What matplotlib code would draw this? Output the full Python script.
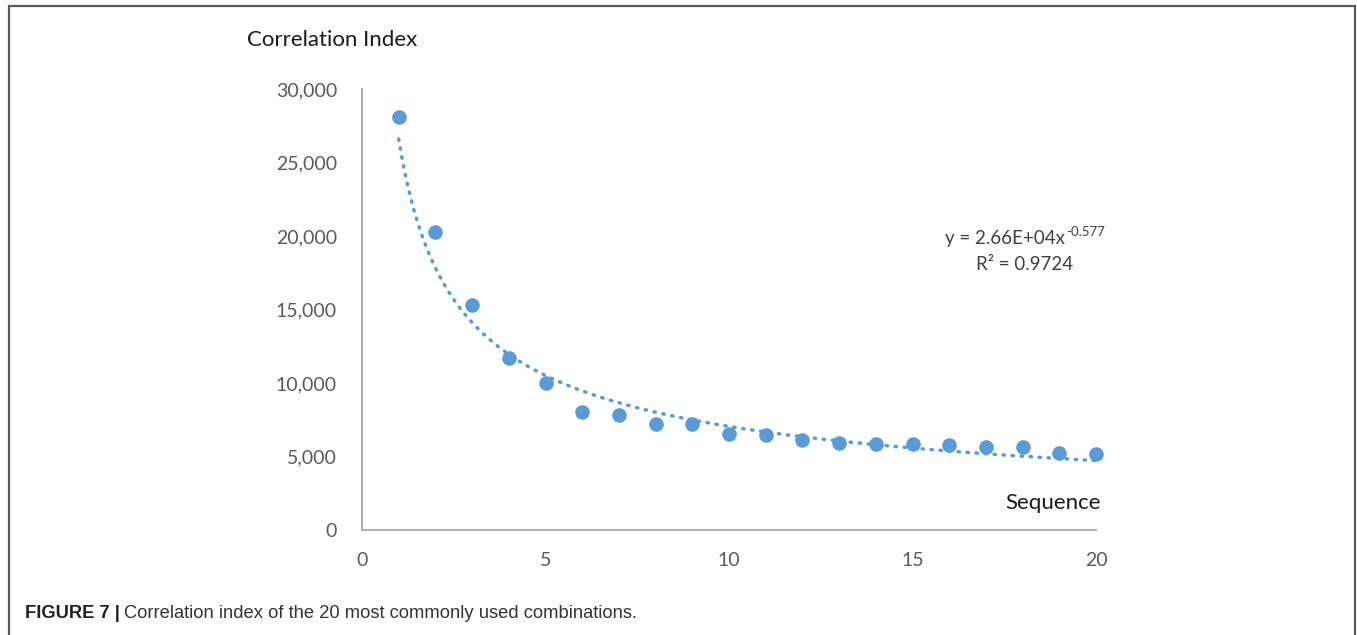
import matplotlib
matplotlib.use("Agg")
import matplotlib.pyplot as plt
from matplotlib.patches import Rectangle
import numpy as np

# Data
sequence = list(range(1, 21))
correlation_index = [28100, 20300, 15300, 11680, 9980, 8050, 7800, 7230, 7230, 6550,
                     6480, 6120, 5940, 5850, 5850, 5780, 5630, 5630, 5220, 5150]
trend_a = 2.66e4
trend_b = -0.577
r_squared = 0.9724
y_ticks = [0, 5000, 10000, 15000, 20000, 25000, 30000]
x_ticks = [0, 5, 10, 15, 20]

W, H = 1357, 635
fig = plt.figure(figsize=(W / 100, H / 100), dpi=100)
fig.patch.set_facecolor("white")

# figure border
fig.add_artist(Rectangle((8.5 / W, -0.05), (1355 - 8.5) / W, 1.05 - 6.5 / H,
                         transform=fig.transFigure, fill=False,
                         edgecolor="#5a5a5a", linewidth=1.6))

ax = fig.add_axes([362 / W, 1 - 530 / H, (1096 - 362) / W, (530 - 89) / H])
blue = "#5b9bd5"
ax.plot(sequence, correlation_index, "o", color=blue, markersize=10.5,
        markeredgewidth=0, zorder=3, clip_on=False)
xt = np.linspace(min(sequence), max(sequence), 300)
ax.plot(xt, trend_a * xt ** trend_b, linestyle=(0, (0.4, 2.2)), color=blue,
        linewidth=2.5, dash_capstyle="round", zorder=2)

ax.set_xlim(0, 20)
ax.set_ylim(0, 30000)
ax.set_xticks(x_ticks)
ax.set_yticks(y_ticks)
ax.set_yticklabels([f"{v:,}" for v in y_ticks])
for s in ["top", "right"]:
    ax.spines[s].set_visible(False)
for s in ["left", "bottom"]:
    ax.spines[s].set_color("#a6a6a6")
    ax.spines[s].set_linewidth(1.3)
ax.tick_params(length=0, labelsize=14, labelcolor="#595959")
ax.tick_params(axis="y", pad=18)
ax.tick_params(axis="x", pad=16)
for lab in ax.get_xticklabels() + ax.get_yticklabels():
    lab.set_family("Lato")

fig.text(247 / W, 1 - 40 / H, "Correlation Index", fontsize=16, family="Lato",
         color="#1a1a1a", va="center", ha="left")
fig.text(1101 / W, 1 - 503 / H, "Sequence", fontsize=16, family="Lato",
         color="#1a1a1a", va="center", ha="right")

eq_main = fig.text(945 / W, 1 - 239 / H, "y = 2.66E+04x", fontsize=13.5, family="Lato",
                   color="#404040", va="center", ha="left")
fig.text(1025 / W, 1 - 265 / H, f"R² = {r_squared}", fontsize=13.5, family="Lato",
         color="#404040", va="center", ha="center")

t1 = fig.text(25 / W, 1 - 613 / H, "FIGURE 7 |", fontsize=13.2, family="Liberation Sans",
              weight="bold", color="#222222", va="center", ha="left")
fig.canvas.draw()
eb = eq_main.get_window_extent()
fig.text((eb.x1 + 1) / W, 1 - 232 / H, "-0.577", fontsize=9.5, family="Lato",
         color="#404040", va="center", ha="left")
bb = t1.get_window_extent()
fig.text((bb.x1 + 4) / W, 1 - 613 / H,
         "Correlation index of the 20 most commonly used combinations.",
         fontsize=13.2, family="Liberation Sans", color="#333333", va="center", ha="left")

fig.savefig("out.png", dpi=100, facecolor="white")
